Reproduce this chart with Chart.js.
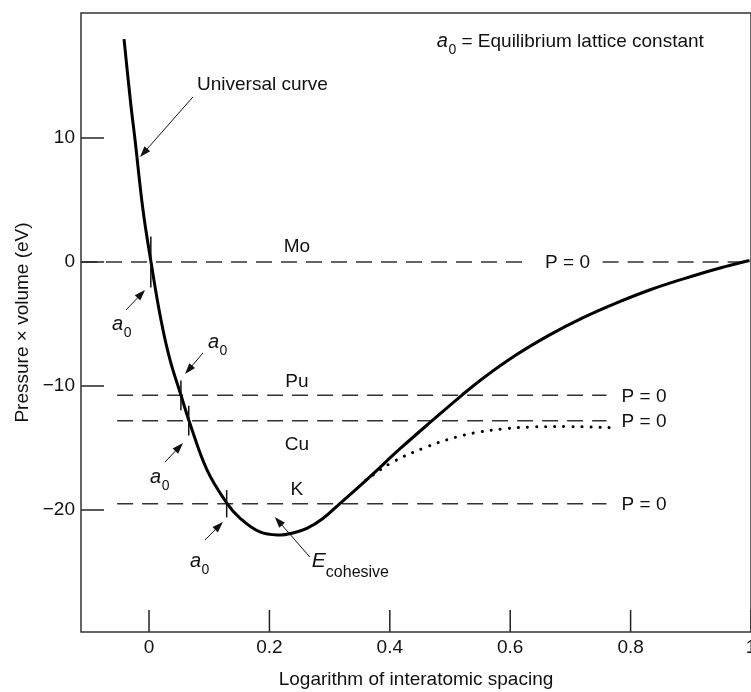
<!DOCTYPE html>
<html>
<head>
<meta charset="utf-8">
<script src="https://cdn.jsdelivr.net/npm/chart.js@4.4.1/dist/chart.umd.min.js"></script>
<style>
  html, body { margin: 0; padding: 0; background: #fff; overflow: hidden; }
  #wrap { width: 751px; height: 692px; overflow: hidden; }
</style>
</head>
<body>
<div id="wrap"><canvas id="universal" width="760" height="692"></canvas></div>
<script>
// universal binding curve
const curveX = [-0.0415, -0.0307, -0.0232, -0.0100, 0.0033, 0.0199, 0.0349, 0.0531, 0.0664, 0.0963, 0.1295, 0.1510, 0.1842, 0.2174, 0.2390, 0.2622, 0.2888, 0.3170, 0.3452, 0.3718, 0.4166, 0.4697, 0.5195, 0.5544, 0.6108, 0.6656, 0.7203, 0.7768, 0.8315, 0.8863, 0.9427, 0.9975];
const curveY = [17.98, 12.90, 9.84, 4.19, 0, -4.68, -7.90, -10.75, -12.8, -16.77, -19.46, -20.65, -21.77, -22.02, -21.85, -21.49, -20.69, -19.48, -18.27, -17.10, -15.08, -12.82, -10.75, -9.39, -7.47, -5.88, -4.51, -3.30, -2.26, -1.38, -0.56, 0.12];

// dotted branch
const dotX = [0.360, 0.405, 0.461, 0.511, 0.549, 0.590, 0.640, 0.700, 0.770];
const dotY = [-17.6, -16.13, -14.92, -14.11, -13.71, -13.45, -13.3, -13.28, -13.35];

// P = 0 levels
const levelNames = ["Mo", "Pu", "Cu", "K"];
const levelValues = [0, -10.75, -12.8, -19.5];
const a0Spacing = [0.003, 0.053, 0.066, 0.129];

const xTicks = [0, 0.2, 0.4, 0.6, 0.8, 1];
const yTicks = [-20, -10, 0, 10];

const xMin = -0.113, xMax = 1.0;
const yMin = -29.84, yMax = 20.08;
const lineStart = -0.053, lineEnd = 0.760;
const moGap = [0.629, 0.7535];

const FONT = "'Liberation Sans', Arial, sans-serif";
const INK = "#111";

const toPts = (xs, ys) => xs.map((x, i) => ({ x: x, y: ys[i] }));

const levelSets = levelValues.map((v, i) => {
    let data;
    if (i === 0) {
        data = [{ x: xMin, y: v }, { x: moGap[0], y: v }, { x: (moGap[0] + moGap[1]) / 2, y: null }, { x: moGap[1], y: v }, { x: xMax, y: v }];
    } else {
        data = [{ x: lineStart, y: v }, { x: lineEnd, y: v }];
    }
    return {
        label: levelNames[i],
        data: data,
        borderColor: "#333",
        borderWidth: 1.5,
        borderDash: [16, 9],
        pointRadius: 0,
        tension: 0,
        spanGaps: false,
        order: 3
    };
});

// annotation positions, in data units
const arrows = [
    [0.073, 13.31, -0.0149, 8.47],
    [-0.0382, -3.87, -0.0066, -2.26],
    [0.0896, -7.34, 0.0598, -9.03],
    [0.0266, -16.13, 0.0564, -14.60],
    [0.0929, -22.42, 0.1228, -20.97],
    [0.267, -23.79, 0.209, -20.56]
];
const a0Labels = [[-0.0614, -5.48], [0.0979, -6.94], [0.0017, -17.82], [0.068, -24.6]];
const a0TickHalf = [2.05, 1.2, 1.2, 1.1];
const nameLabelX = 0.2456;
const nameLabelY = [0.81, -10.08, -15.16, -18.79];

function drawArrow(ctx, x1, y1, x2, y2) {
    const ang = Math.atan2(y2 - y1, x2 - x1);
    const len = 11, half = 3.8;
    ctx.beginPath();
    ctx.moveTo(x1, y1);
    ctx.lineTo(x2 - Math.cos(ang) * len * 0.8, y2 - Math.sin(ang) * len * 0.8);
    ctx.lineWidth = 1;
    ctx.strokeStyle = INK;
    ctx.stroke();
    ctx.beginPath();
    ctx.moveTo(x2, y2);
    ctx.lineTo(x2 - Math.cos(ang) * len - Math.sin(ang) * half, y2 - Math.sin(ang) * len + Math.cos(ang) * half);
    ctx.lineTo(x2 - Math.cos(ang) * len + Math.sin(ang) * half, y2 - Math.sin(ang) * len - Math.cos(ang) * half);
    ctx.closePath();
    ctx.fillStyle = INK;
    ctx.fill();
}

function drawA0(ctx, px, py) {
    ctx.textAlign = "left";
    ctx.textBaseline = "alphabetic";
    ctx.font = "italic 20px " + FONT;
    ctx.fillText("a", px, py);
    const w = ctx.measureText("a").width;
    ctx.font = "14px " + FONT;
    ctx.fillText("0", px + w + 0.5, py + 7);
    return px + w + 0.5 + ctx.measureText("0").width;
}

const figurePlugin = {
    id: "figure",
    afterDatasetsDraw(chart) {
        const ctx = chart.ctx;
        const xs = chart.scales.x, ys = chart.scales.y;
        const area = chart.chartArea;
        ctx.save();
        ctx.fillStyle = INK;

        // a0 crossing marks
        ctx.strokeStyle = INK;
        ctx.lineWidth = 1.5;
        a0Spacing.forEach((ax, i) => {
            const px = xs.getPixelForValue(ax);
            ctx.beginPath();
            ctx.moveTo(px, ys.getPixelForValue(levelValues[i] + a0TickHalf[i]));
            ctx.lineTo(px, ys.getPixelForValue(levelValues[i] - a0TickHalf[i]));
            ctx.stroke();
        });

        // inward tick marks
        ctx.strokeStyle = "#222";
        xTicks.forEach(v => {
            const px = xs.getPixelForValue(v);
            ctx.beginPath();
            ctx.moveTo(px, area.bottom);
            ctx.lineTo(px, area.bottom - 22);
            ctx.stroke();
        });
        yTicks.forEach(v => {
            const py = ys.getPixelForValue(v);
            ctx.beginPath();
            ctx.moveTo(area.left, py);
            ctx.lineTo(area.left + 23, py);
            ctx.stroke();
        });

        // element names and P = 0
        ctx.font = "19px " + FONT;
        ctx.textBaseline = "alphabetic";
        ctx.textAlign = "center";
        levelNames.forEach((n, i) => {
            ctx.fillText(n, xs.getPixelForValue(nameLabelX), ys.getPixelForValue(nameLabelY[i]));
        });
        ctx.textBaseline = "middle";
        ctx.fillText("P = 0", xs.getPixelForValue((moGap[0] + moGap[1]) / 2 + 0.004), ys.getPixelForValue(levelValues[0]) + 1);
        ctx.textAlign = "left";
        for (let i = 1; i < levelValues.length; i++) {
            ctx.fillText("P = 0", xs.getPixelForValue(0.785), ys.getPixelForValue(levelValues[i]) + 1);
        }

        // arrows
        arrows.forEach(a => {
            drawArrow(ctx, xs.getPixelForValue(a[0]), ys.getPixelForValue(a[1]), xs.getPixelForValue(a[2]), ys.getPixelForValue(a[3]));
        });

        // a0 labels
        a0Labels.forEach(p => drawA0(ctx, xs.getPixelForValue(p[0]), ys.getPixelForValue(p[1])));

        // Universal curve
        ctx.font = "19px " + FONT;
        ctx.textAlign = "left";
        ctx.textBaseline = "alphabetic";
        ctx.fillText("Universal curve", xs.getPixelForValue(0.0797), ys.getPixelForValue(13.87));

        // E cohesive
        const ex = xs.getPixelForValue(0.2705), ey = ys.getPixelForValue(-24.6);
        ctx.font = "italic 21px " + FONT;
        ctx.fillText("E", ex, ey);
        const ew = ctx.measureText("E").width;
        ctx.font = "16px " + FONT;
        ctx.fillText("cohesive", ex + ew, ey + 10);

        // key text top right
        const kx = xs.getPixelForValue(0.478), ky = ys.getPixelForValue(17.34);
        const after = drawA0(ctx, kx, ky);
        ctx.font = "19px " + FONT;
        ctx.fillText(" = Equilibrium lattice constant", after, ky);

        // frame
        ctx.strokeStyle = "#333";
        ctx.lineWidth = 1.5;
        ctx.strokeRect(area.left, area.top, area.right - area.left, area.bottom - area.top);
        ctx.restore();
    }
};

Chart.defaults.font.family = FONT;
Chart.defaults.font.size = 19;
Chart.defaults.color = INK;

const fmt = v => (v < 0 ? "\u2212" + Math.abs(v) : String(v));

new Chart(document.getElementById("universal").getContext("2d"), {
    type: "line",
    data: {
        datasets: [
            {
                label: "Universal curve",
                data: toPts(curveX, curveY),
                borderColor: "#000",
                borderWidth: 3,
                pointRadius: 0,
                tension: 0.4,
                order: 1
            },
            {
                label: "dotted",
                data: toPts(dotX, dotY),
                borderColor: "#000",
                borderWidth: 3,
                borderDash: [0.1, 9],
                borderCapStyle: "round",
                pointRadius: 0,
                tension: 0.4,
                order: 2
            },
            ...levelSets
        ]
    },
    options: {
        responsive: false,
        animation: false,
        layout: { padding: { top: 13, right: 9, left: 0, bottom: 0 } },
        plugins: {
            legend: { display: false },
            tooltip: { enabled: false }
        },
        scales: {
            x: {
                type: "linear",
                min: xMin,
                max: xMax,
                grid: { display: false, drawTicks: false },
                border: { display: false },
                afterBuildTicks: s => { s.ticks = xTicks.map(v => ({ value: v })); },
                afterFit: s => { s.height = 60; s.paddingLeft = 0; s.paddingRight = 0; },
                ticks: { padding: 4, maxRotation: 0, autoSkip: false, callback: v => fmt(v) },
                title: { display: true, text: "Logarithm of interatomic spacing", font: { size: 19 }, padding: { top: 0, bottom: 1 } }
            },
            y: {
                min: yMin,
                max: yMax,
                grid: { display: false, drawTicks: false },
                border: { display: false },
                afterBuildTicks: s => { s.ticks = yTicks.map(v => ({ value: v })); },
                afterFit: s => { s.width = 81; s.paddingTop = 0; s.paddingBottom = 0; },
                ticks: { padding: 6, autoSkip: false, callback: v => fmt(v) },
                title: { display: true, text: "Pressure \u00d7 volume (eV)", font: { size: 19 }, padding: { top: 11, bottom: 0 } }
            }
        }
    },
    plugins: [figurePlugin]
});
</script>
</body>
</html>
